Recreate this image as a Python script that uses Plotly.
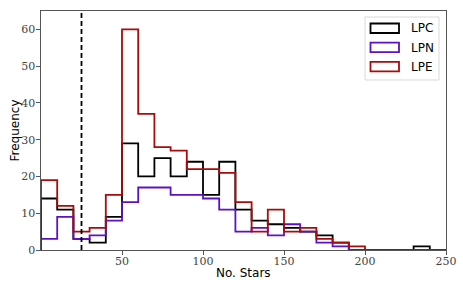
import plotly.graph_objects as go

# ---- data ----
bin_edges = list(range(0, 260, 10))  # 0..250 in steps of 10
series_names = ["LPC", "LPN", "LPE"]
lpc_counts = [14, 11, 3, 2, 9, 29, 20, 25, 20, 24, 15, 24, 11, 8, 7, 6, 5, 4, 2, 0, 0, 0, 0, 1, 0]
lpn_counts = [3, 9, 3, 4, 8, 13, 17, 17, 15, 15, 14, 11, 5, 6, 4, 7, 5, 2, 1, 0, 0, 0, 0, 0, 0]
lpe_counts = [19, 12, 5, 6, 15, 60, 37, 28, 27, 22, 22, 21, 13, 5, 11, 5, 6, 3, 2, 1, 0, 0, 0, 0, 0]
series_colors = ["#000000", "#5c12c0", "#a80c0c"]
cut_value = 25
x_ticks = [50, 100, 150, 200, 250]
y_ticks = [0, 10, 20, 30, 40, 50, 60]
x_title = "No. Stars"
y_title = "Frequency"


def step_xy(edges, counts):
    xs, ys = [edges[0]], [0]
    for i, c in enumerate(counts):
        xs += [edges[i], edges[i + 1]]
        ys += [c, c]
    xs.append(edges[-1])
    ys.append(0)
    return xs, ys


fig = go.Figure()
for name, counts, col in zip(series_names, [lpc_counts, lpn_counts, lpe_counts], series_colors):
    xs, ys = step_xy(bin_edges, counts)
    fig.add_trace(go.Scatter(x=xs, y=ys, mode="lines", name=name,
                             line=dict(color=col, width=1.8), showlegend=False,
                             hoverinfo="skip"))

# vertical dashed cut line
fig.add_shape(type="line", x0=cut_value, x1=cut_value, y0=0, y1=1, yref="paper",
              line=dict(color="black", width=1.8, dash="5px,3px"))

# manual legend (matplotlib-like outlined patches)
fig.add_shape(type="rect", xref="paper", yref="paper",
              x0=(365 - 41) / 405, x1=(439 - 41) / 405,
              y0=(250 - 80) / 239, y1=(250 - 17) / 239,
              line=dict(color="#d9d9d9", width=1), fillcolor="rgba(255,255,255,0.8)",
              layer="above")
for i, (name, col) in enumerate(zip(series_names, series_colors)):
    top = 23.5 + i * 19.2
    fig.add_shape(type="rect", xref="paper", yref="paper",
                  x0=(370.5 - 41) / 405, x1=(399 - 41) / 405,
                  y0=(250 - (top + 9.5)) / 239, y1=(250 - top) / 239,
                  line=dict(color=col, width=1.8), fillcolor="white", layer="above")
    fig.add_annotation(text=name, xref="paper", yref="paper",
                       x=(409 - 41) / 405, y=(250 - (top + 4.8)) / 239,
                       xanchor="left", yanchor="middle", showarrow=False,
                       font=dict(family="DejaVu Sans", size=12, color="black"))

# axis titles as annotations for precise placement
fig.add_annotation(text=x_title, xref="paper", yref="paper", x=0.5, y=-23 / 239,
                   xanchor="center", yanchor="middle", showarrow=False,
                   font=dict(family="DejaVu Sans", size=12, color="black"))
fig.add_annotation(text=y_title, xref="paper", yref="paper", x=-27 / 405, y=0.5,
                   xanchor="center", yanchor="middle", showarrow=False, textangle=-90,
                   font=dict(family="DejaVu Sans", size=12, color="black"))

axis_common = dict(showgrid=False, zeroline=False, showline=True, mirror=True,
                   linecolor="#555555", linewidth=1.2, ticks="outside", ticklen=3.5,
                   tickwidth=1, tickcolor="#555555", automargin=False,
                   tickfont=dict(family="DejaVu Serif", size=11, color="#444444"))

fig.update_xaxes(range=[0, 250], tickvals=x_ticks, ticklabelstandoff=-3, **axis_common)
fig.update_yaxes(range=[0, 65], tickvals=y_ticks, ticklabelstandoff=-1, **axis_common)

fig.update_layout(width=463, height=290, margin=dict(l=41, r=17, t=11, b=40),
                  plot_bgcolor="white", paper_bgcolor="white", showlegend=False)

fig.write_html("out.html", config={"displayModeBar": False},
               post_script="document.body.style.margin='0';document.body.style.overflow='hidden';")
